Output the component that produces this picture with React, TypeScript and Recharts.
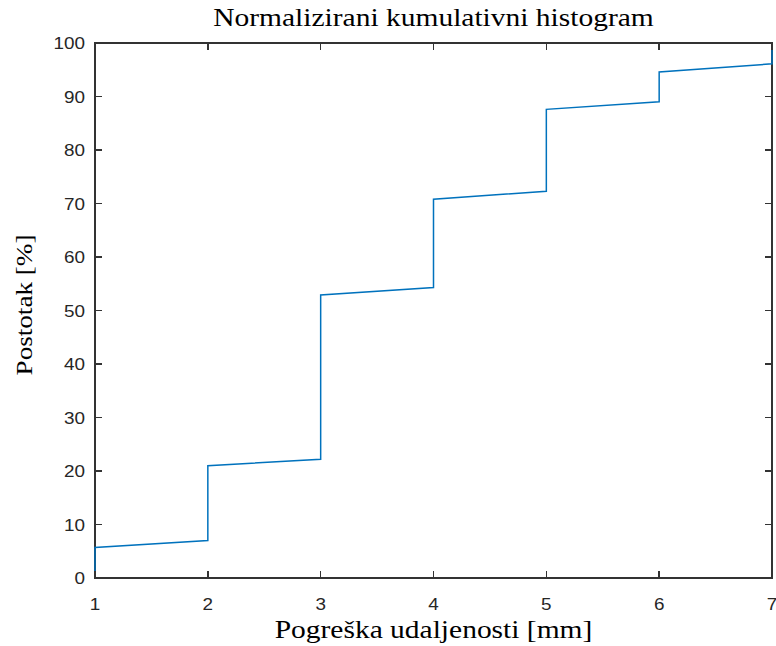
import { LineChart, Line, XAxis, YAxis, Label, ReferenceArea } from 'recharts';

// step-shaped cumulative curve
const errorMm = [1, 1, 2, 2, 3, 3, 4, 4, 5, 5, 6, 6, 7, 7];
const percent = [0, 5.7, 7.0, 21.0, 22.2, 52.9, 54.3, 70.8, 72.3, 87.6, 89.0, 94.6, 96.1, 100];
const xTicks = [1, 2, 3, 4, 5, 6, 7];
const yTicks = [0, 10, 20, 30, 40, 50, 60, 70, 80, 90, 100];

const data = errorMm.map((x, i) => ({ x, y: percent[i] }));

const axisColor = '#333333';
const serif = '"Liberation Serif", "Times New Roman", serif';
const sans = '"Liberation Sans", Arial, sans-serif';
const TICK_LEN = 7;
const FRAME_W = 1.5;

// reference text is a little stretched sideways
const Stretched = ({ x, y, anchor, family, size, children, rotate = 0 }: any) => (
  <g transform={`translate(${x} ${y}) rotate(${rotate}) scale(1.18 1)`}>
    <text x={0} y={0} textAnchor={anchor} fontFamily={family} fontSize={size} fill="#000">
      {children}
    </text>
  </g>
);

// matlab style: tick marks point inwards, labels outside
const BottomTick = ({ x, y, payload }: any) => (
  <g>
    <path d={`M${x},${y}V${y - TICK_LEN}`} stroke={axisColor} strokeWidth={FRAME_W} shapeRendering="crispEdges" />
    <g transform={`translate(${x} ${y + 32}) scale(1.18 1)`}>
      <text x={0} y={0} textAnchor="middle" fontFamily={sans} fontSize={16} fill="#262626">
        {payload.value}
      </text>
    </g>
  </g>
);

const LeftTick = ({ x, y, payload }: any) => (
  <g>
    <path d={`M${x},${y}H${x + TICK_LEN}`} stroke={axisColor} strokeWidth={FRAME_W} shapeRendering="crispEdges" />
    <g transform={`translate(${x - 10} ${y + 6}) scale(1.18 1)`}>
      <text x={0} y={0} textAnchor="end" fontFamily={sans} fontSize={16} fill="#262626">
        {payload.value}
      </text>
    </g>
  </g>
);

const TopTick = ({ x, y }: any) => (
  <path d={`M${x},${y}V${y + TICK_LEN}`} stroke={axisColor} strokeWidth={FRAME_W} shapeRendering="crispEdges" />
);
const RightTick = ({ x, y }: any) => (
  <path d={`M${x},${y}H${x - TICK_LEN}`} stroke={axisColor} strokeWidth={FRAME_W} shapeRendering="crispEdges" />
);

export default function App() {
  return (
    <div>
      <style>{`body { margin: 0; background: #fff; }`}</style>
      <LineChart width={776} height={646} data={data} margin={{ top: 42, right: 3, bottom: 0, left: 0 }}>
        <XAxis dataKey="x" type="number" domain={[1, 7]} ticks={xTicks} interval={0} height={68}
          tickSize={0} tickMargin={0} tick={<BottomTick />} axisLine={false} tickLine={false}>
          <Label
            content={({ viewBox }: any) => (
              <Stretched x={viewBox.x + viewBox.width / 2} y={638} anchor="middle" family={serif} size={25}>
                Pogreška udaljenosti [mm]
              </Stretched>
            )}
          />
        </XAxis>
        <XAxis xAxisId="top" orientation="top" dataKey="x" type="number" domain={[1, 7]} ticks={xTicks}
          interval={0} height={1} tickSize={0} tickMargin={0} tick={<TopTick />} axisLine={false} tickLine={false}>
          <Label
            content={({ viewBox }: any) => (
              <Stretched x={viewBox.x + viewBox.width / 2} y={26} anchor="middle" family={serif} size={25}>
                Normalizirani kumulativni histogram
              </Stretched>
            )}
          />
        </XAxis>
        <YAxis type="number" domain={[0, 100]} ticks={yTicks} interval={0} width={95}
          tickSize={0} tickMargin={0} tick={<LeftTick />} axisLine={false} tickLine={false}>
          <Label
            content={() => (
              <Stretched x={32} y={305} rotate={-90} anchor="middle" family={serif} size={23}>
                Postotak [%]
              </Stretched>
            )}
          />
        </YAxis>
        <YAxis yAxisId="right" orientation="right" type="number" domain={[0, 100]} ticks={yTicks}
          interval={0} width={1} tickSize={0} tickMargin={0} tick={<RightTick />} axisLine={false} tickLine={false} />
        {/* box round the plot */}
        <ReferenceArea x1={1} x2={7} y1={0} y2={100} fill="none" stroke={axisColor} strokeWidth={FRAME_W}
          shapeRendering="crispEdges" ifOverflow="visible" />
        {/* invisible copy so the mirrored top/right axes get drawn */}
        <Line xAxisId="top" yAxisId="right" type="linear" dataKey="y" stroke="none" dot={false} isAnimationActive={false} />
        <Line type="linear" dataKey="y" stroke="#0072BD" strokeWidth={1.5} dot={false} isAnimationActive={false} />
      </LineChart>
    </div>
  );
}
